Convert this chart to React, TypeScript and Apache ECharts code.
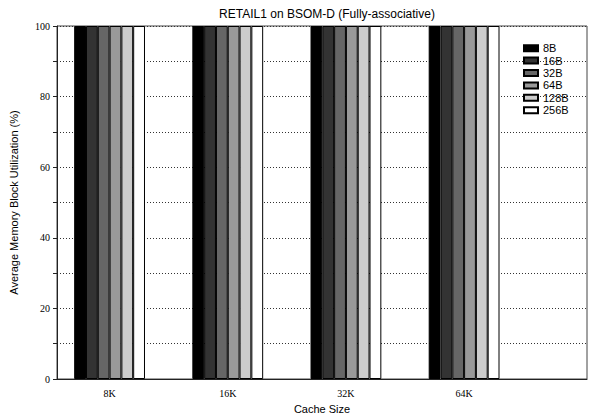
import React, { useEffect, useRef } from "react";
import * as echarts from "echarts";

const categories = ["8K", "16K", "32K", "64K"];
const seriesNames = ["8B", "16B", "32B", "64B", "128B", "256B"];
const seriesColors = ["#000000", "#333333", "#666666", "#999999", "#cccccc", "#ffffff"];
const values8B = [100, 100, 100, 100];
const values16B = [100, 100, 100, 100];
const values32B = [100, 100, 100, 100];
const values64B = [100, 100, 100, 100];
const values128B = [100, 100, 100, 100];
const values256B = [100, 100, 100, 100];
const allValues = [values8B, values16B, values32B, values64B, values128B, values256B];
const yTickLabels = [0, 20, 40, 60, 80, 100];

export default function App() {
  const ref = useRef<HTMLDivElement>(null);
  useEffect(() => {
    document.body.style.margin = "0";
    const chart = echarts.init(ref.current!, null, { renderer: "svg" });
    const sans = "Liberation Sans, Arial, Helvetica, sans-serif";
    const serif = "Liberation Serif, Times New Roman, serif";
    chart.setOption({
      animation: false,
      backgroundColor: "#ffffff",
      title: {
        text: "RETAIL1 on BSOM-D (Fully-associative)",
        left: 322,
        textAlign: "center",
        top: 3,
        textStyle: { fontFamily: sans, fontSize: 12, fontWeight: "normal", color: "#000" },
      },
      legend: {
        orient: "vertical",
        left: 523,
        top: 42,
        padding: 0,
        itemWidth: 14,
        itemHeight: 6,
        itemGap: 0,
        icon: "rect",
        data: seriesNames,
        textStyle: { fontFamily: sans, fontSize: 11, color: "#000", lineHeight: 12.4, height: 12.4 },
        backgroundColor: "transparent",
      },
      grid: {
        left: 57,
        right: 5,
        top: 26,
        bottom: 39,
        show: true,
        borderColor: "#444",
        borderWidth: 1,
        backgroundColor: "transparent",
      },
      xAxis: {
        type: "value",
        min: 0.555,
        max: 5.04,
        name: "Cache Size",
        nameLocation: "middle",
        nameGap: 24,
        nameTextStyle: { fontFamily: sans, fontSize: 11, color: "#000" },
        axisLine: { show: true, lineStyle: { color: "#222", width: 1 } },
        axisTick: { show: false },
        splitLine: { show: false },
        axisLabel: {
          customValues: [1, 2, 3, 4],
          formatter: (v: number) => categories[Math.round(v) - 1] ?? "",
          fontFamily: serif,
          fontSize: 10,
          color: "#000",
          margin: 9,
        },
      },
      yAxis: {
        type: "value",
        min: 0,
        max: 100,
        interval: 10,
        name: "Average Memory Block Utilization (%)",
        nameLocation: "middle",
        nameGap: 38,
        nameRotate: 90,
        nameTextStyle: { fontFamily: sans, fontSize: 11, color: "#000" },
        axisLine: { show: true, lineStyle: { color: "#222", width: 1 } },
        axisTick: { show: true, length: 4, lineStyle: { color: "#222" } },
        axisLabel: {
          customValues: yTickLabels,
          fontFamily: serif,
          fontSize: 10,
          color: "#000",
          margin: 7,
        },
        splitLine: { show: true, lineStyle: { color: "#333", width: 1, type: [1, 2] } },
      },
      series: seriesNames.map((name, si) => ({
        name,
        type: "bar",
        barWidth: 11.8,
        barGap: "0%",
        itemStyle: { color: seriesColors[si], borderColor: "#000", borderWidth: 1 },
        data: categories.map((_, ci) => [ci + 1, allValues[si][ci]]),
      })),
    });
    return () => chart.dispose();
  }, []);
  return <div ref={ref} style={{ width: 592, height: 419 }} />;
}
